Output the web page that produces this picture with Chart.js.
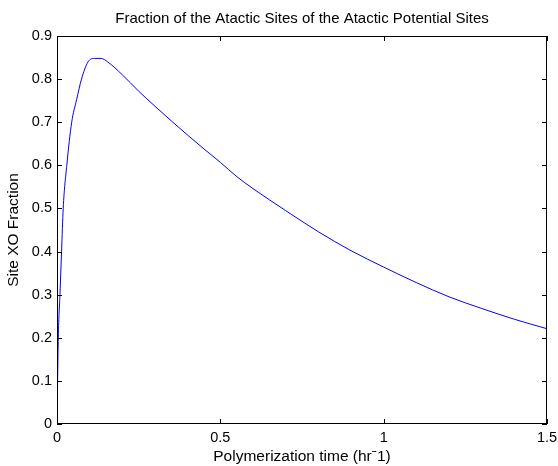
<!DOCTYPE html>
<html>
<head>
<meta charset="utf-8">
<script src="https://cdn.jsdelivr.net/npm/chart.js@4/dist/chart.umd.min.js"></script>
<style>
  html, body { margin: 0; padding: 0; background: #fff; overflow: hidden; }
  canvas { display: block; }
</style>
</head>
<body>
<canvas id="graficaSitios" width="558" height="466"></canvas>
<script>
const timeHr = [0, 0.004, 0.009, 0.014, 0.019, 0.03, 0.045, 0.06, 0.075, 0.095, 0.115, 0.135, 0.155,
  0.2, 0.25, 0.3, 0.35, 0.4, 0.45, 0.5, 0.55, 0.6, 0.7, 0.8, 0.9, 1.0, 1.1, 1.2, 1.3, 1.4, 1.5];
const siteFraction = [0, 0.2, 0.3, 0.4, 0.5, 0.6, 0.7, 0.752, 0.8, 0.84, 0.848, 0.848, 0.84,
  0.81, 0.772, 0.737, 0.703, 0.67, 0.638, 0.607, 0.574, 0.546, 0.495, 0.446, 0.402, 0.364, 0.328, 0.295, 0.268, 0.243, 0.221];
const xTicks = [0, 0.5, 1, 1.5];
const yTicks = [0, 0.1, 0.2, 0.3, 0.4, 0.5, 0.6, 0.7, 0.8, 0.9];
const titulo = 'Fraction of the Atactic Sites of the Atactic Potential Sites';

const FONT = "'Liberation Sans', Arial, sans-serif";

// caja tipo matlab con marcas hacia dentro, y titulo centrado sobre el area
const cajaPlugin = {
  id: 'caja',
  afterDatasetsDraw(chart) {
    const { ctx, chartArea: a, scales } = chart;
    ctx.save();
    ctx.strokeStyle = '#000';
    ctx.lineWidth = 1;
    ctx.strokeRect(a.left + 0.5, a.top + 0.5, a.right - a.left - 1, a.bottom - a.top - 1);
    ctx.beginPath();
    xTicks.forEach(v => {
      const px = Math.round(scales.x.getPixelForValue(v)) + 0.5;
      ctx.moveTo(px, a.bottom); ctx.lineTo(px, a.bottom - 5);
      ctx.moveTo(px, a.top); ctx.lineTo(px, a.top + 5);
    });
    yTicks.forEach(v => {
      const py = Math.round(scales.y.getPixelForValue(v)) + 0.5;
      ctx.moveTo(a.left, py); ctx.lineTo(a.left + 5, py);
      ctx.moveTo(a.right, py); ctx.lineTo(a.right - 5, py);
    });
    ctx.stroke();
    ctx.fillStyle = '#000';
    ctx.font = '15px ' + FONT;
    ctx.textAlign = 'center';
    ctx.textBaseline = 'middle';
    ctx.fillText(titulo, (a.left + a.right) / 2, 19);
    ctx.restore();
  }
};

const fondoPlugin = {
  id: 'fondo',
  beforeDraw(chart) {
    const ctx = chart.ctx;
    ctx.save();
    ctx.fillStyle = '#fff';
    ctx.fillRect(0, 0, chart.width, chart.height);
    ctx.restore();
  }
};

let graficaSitios = new Chart(document.getElementById('graficaSitios'), {
  type: 'scatter',
  data: {
    datasets: [{
      label: 'Site XO Fraction',
      data: timeHr.map((t, i) => ({ x: t, y: siteFraction[i] })),
      showLine: true,
      borderColor: '#0000ff',
      borderWidth: 1,
      pointRadius: 0,
      cubicInterpolationMode: 'monotone'
    }]
  },
  options: {
    animation: false,
    responsive: false,
    layout: { padding: { top: 36, right: 11 } },
    plugins: {
      legend: { display: false },
      tooltip: { enabled: false },
      title: { display: false }
    },
    scales: {
      x: {
        type: 'linear',
        min: 0, max: 1.5,
        afterBuildTicks: s => { s.ticks = xTicks.map(v => ({ value: v })); },
        afterFit: s => { s.height = 42; s.paddingRight = 0; s.paddingLeft = 0; },
        grid: { display: false, drawTicks: false },
        border: { display: false },
        ticks: {
          color: '#000', padding: 5, maxRotation: 0,
          font: { family: FONT, size: 14.5 },
          callback: v => String(v)
        },
        title: {
          display: true, text: 'Polymerization time (hr\u02C91)', color: '#000',
          font: { family: FONT, size: 15.5 }, padding: { top: 0, bottom: 0 }
        }
      },
      y: {
        type: 'linear',
        min: 0, max: 0.9,
        afterBuildTicks: s => { s.ticks = yTicks.map(v => ({ value: v })); },
        afterFit: s => { s.width = 57; s.paddingTop = 0; s.paddingBottom = 0; },
        grid: { display: false, drawTicks: false },
        border: { display: false },
        ticks: { color: '#000', padding: 5, font: { family: FONT, size: 14.5 } },
        title: {
          display: true, text: 'Site XO Fraction', color: '#000',
          font: { family: FONT, size: 15.5 }, padding: { top: 4, bottom: 0 }
        }
      }
    }
  },
  plugins: [fondoPlugin, cajaPlugin]
});
</script>
</body>
</html>
